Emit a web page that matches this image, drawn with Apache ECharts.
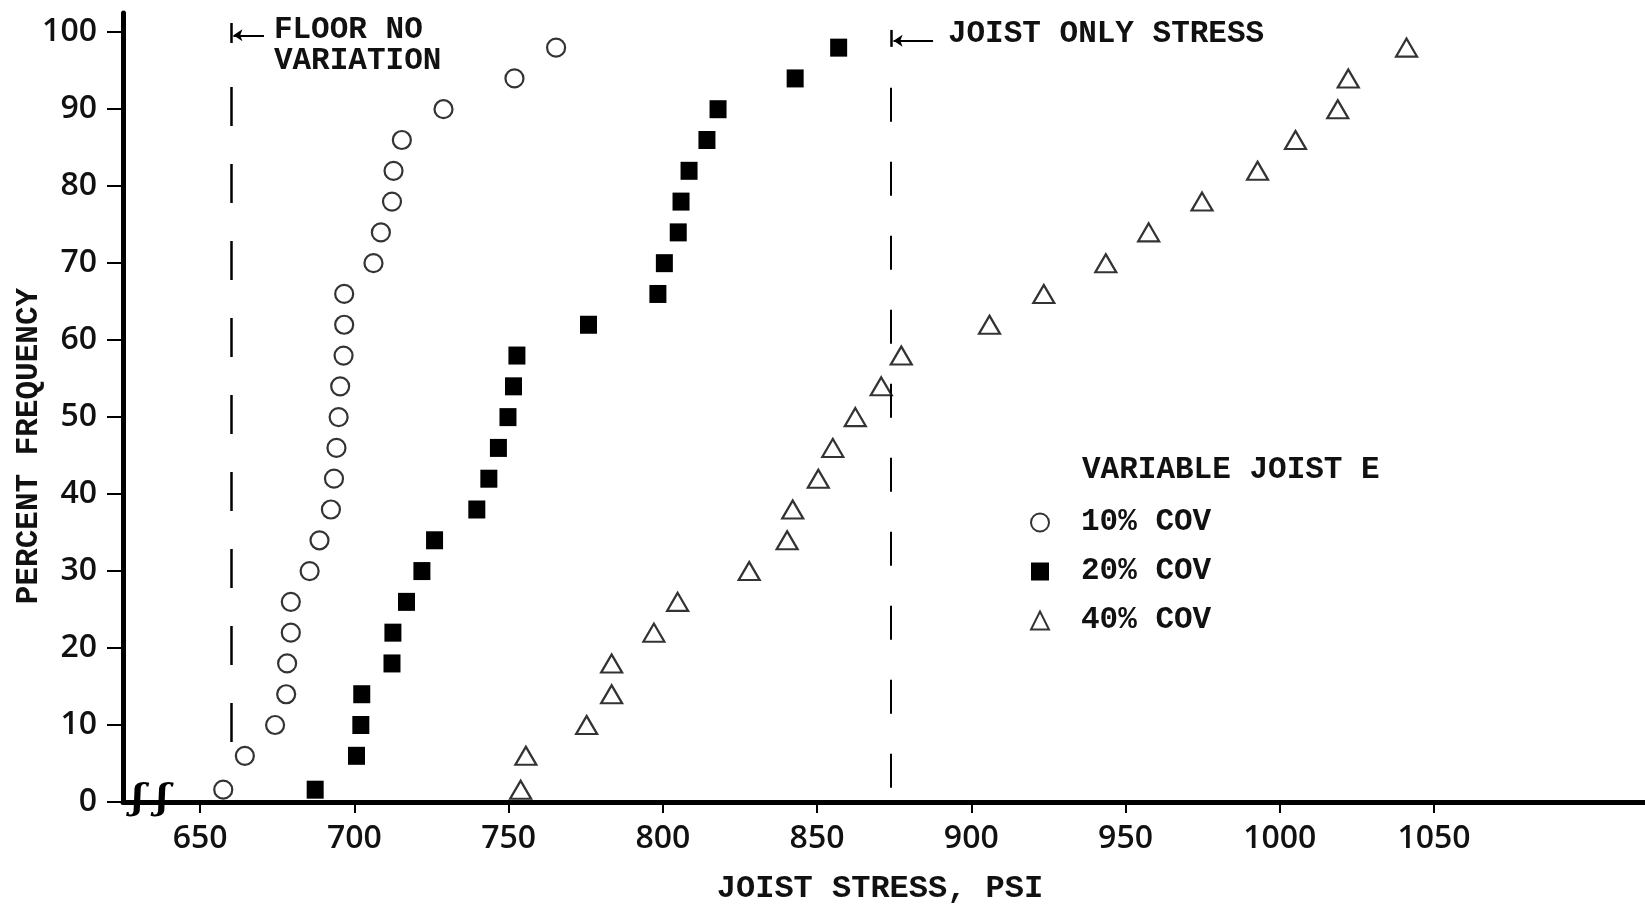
<!DOCTYPE html>
<html><head><meta charset="utf-8">
<script src="https://cdn.jsdelivr.net/npm/echarts@6/dist/echarts.min.js"></script>
<style>html,body{margin:0;padding:0;background:#fff}#c{width:1645px;height:907px}</style>
</head><body><div id="c"></div>
<script>
// Percent frequency (y) shared by all three series
const pct = [1.6, 6, 10, 14, 18, 22, 26, 30, 34, 38, 42, 46, 50, 54, 58, 62, 66, 70, 74, 78, 82, 86, 90, 94, 98];
// Joist stress (x), PSI
const cov10 = [657.5, 664.5, 674.3, 677.9, 678.2, 679.4, 679.4, 685.5, 688.7, 692.4, 693.4, 694.2, 694.9, 695.4, 696.5, 696.7, 696.7, 706.2, 708.6, 712.2, 712.7, 715.4, 728.9, 751.9, 765.4];
const cov20 = [687.3, 700.7, 702.1, 702.4, 712.2, 712.5, 716.9, 721.9, 726.0, 739.7, 743.6, 746.7, 749.8, 751.6, 752.7, 775.9, 798.4, 800.5, 805.0, 805.9, 808.5, 814.3, 817.9, 842.9, 857.0];
const cov40 = [753.9, 755.6, 775.3, 783.4, 783.4, 797.1, 804.8, 828.0, 840.3, 842.1, 850.4, 855.1, 862.4, 870.8, 877.3, 905.9, 923.5, 943.6, 957.5, 974.8, 992.8, 1005.1, 1018.8, 1022.2, 1041.1];
const seriesNames = ['10% COV', '20% COV', '40% COV'];
const xTicks = [650, 700, 750, 800, 850, 900, 950, 1000, 1050];
const yTicks = [0, 10, 20, 30, 40, 50, 60, 70, 80, 90, 100];
const floorLineX = 660;
const joistLineX = 874;

const MONO = "'Liberation Mono', 'Courier New', monospace";
const SANS = "'Open Sans', 'DejaVu Sans', sans-serif";

const toPts = arr => arr.map((x, i) => [x, pct[i]]);

const chart = echarts.init(document.getElementById('c'), null, {renderer: 'canvas'});
chart.setOption({
  backgroundColor: '#fff',
  animation: false,
  grid: {left: 123, right: 0, top: 13, bottom: 105, containLabel: false, outerBoundsMode: 'none'},
  xAxis: {
    type: 'value', min: 625, max: 1118.4,
    splitLine: {show: false},
    axisLine: {show: true, onZero: false, lineStyle: {color: '#000', width: 5}},
    axisTick: {show: true, customValues: xTicks, length: 11, lineStyle: {color: '#000', width: 2}},
    axisLabel: {customValues: xTicks, formatter: v => String(v), margin: 21, color: '#111', fontFamily: SANS, fontSize: 32, fontWeight: 600},
    name: 'JOIST STRESS, PSI', nameLocation: 'middle', nameGap: 71,
    nameTextStyle: {fontFamily: MONO, fontWeight: 'bold', fontSize: 32, color: '#111', padding: [0, 8, 0, 0]}
  },
  yAxis: {
    type: 'value', min: 0, max: 102.5,
    splitLine: {show: false},
    axisLine: {show: true, onZero: false, lineStyle: {color: '#000', width: 5}},
    axisTick: {show: true, customValues: yTicks, length: 16, lineStyle: {color: '#000', width: 2}},
    axisLabel: {customValues: yTicks, formatter: v => String(v), margin: 26, color: '#111', fontFamily: SANS, fontSize: 32, fontWeight: 600}
  },
  legend: {
    data: seriesNames,
    orient: 'vertical', left: 1025, top: 502,
    itemWidth: 18, itemHeight: 18, itemGap: 18,
    textStyle: {fontFamily: MONO, fontWeight: 'bold', fontSize: 31, color: '#111', lineHeight: 30, padding: [0, 0, 0, 27]}
  },
  graphic: [
    {type: 'text', x: 1082, y: 470, style: {text: 'VARIABLE JOIST E', font: "bold 31px 'Liberation Mono', monospace", fill: '#111', verticalAlign: 'middle'}},
    {type: 'text', x: 29, y: 446, rotation: Math.PI / 2, style: {text: 'PERCENT FREQUENCY', font: "bold 31px 'Liberation Mono', monospace", fill: '#111', align: 'center', verticalAlign: 'middle'}}
  ],
  series: [
    {name: seriesNames[0], type: 'scatter', symbol: 'circle', symbolSize: 18, data: toPts(cov10),
     itemStyle: {color: '#fff', borderColor: '#000', borderWidth: 2.2}, z: 5},
    {name: seriesNames[1], type: 'scatter', symbol: 'rect', symbolSize: [17, 18], data: toPts(cov20),
     itemStyle: {color: '#000', borderColor: '#000', borderWidth: 0, opacity: 1}, z: 5},
    {name: seriesNames[2], type: 'scatter', symbol: 'triangle', symbolSize: [21, 18], data: toPts(cov40),
     itemStyle: {color: '#fff', borderColor: '#000', borderWidth: 2.2}, z: 5},
    {name: 'annot', type: 'scatter', data: [], silent: true, z: 3,
     markLine: {
       silent: true, animation: false, symbol: 'none', label: {show: false},
       data: [
         [{coord: [floorLineX, 92.9], lineStyle: {color: '#000', width: 2.5, type: [39, 38]}}, {coord: [floorLineX, 7.7]}],
         [{coord: [joistLineX, 92.8], lineStyle: {color: '#000', width: 2, type: [34, 40]}}, {coord: [joistLineX, 0]}],
         [{coord: [floorLineX, 101.2], lineStyle: {color: '#000', width: 2.5, type: 'solid'}}, {coord: [floorLineX, 98.6]}],
         [{coord: [670.7, 99.6], symbol: 'none', lineStyle: {color: '#000', width: 2, type: 'solid'}}, {coord: [660.8, 99.6], symbol: 'arrow', symbolSize: 9}],
         [{coord: [joistLineX, 100.3], lineStyle: {color: '#000', width: 2.5, type: 'solid'}}, {coord: [joistLineX, 98.1]}],
         [{coord: [887.6, 98.9], symbol: 'none', lineStyle: {color: '#000', width: 2, type: 'solid'}}, {coord: [874.8, 98.9], symbol: 'arrow', symbolSize: 9}]
       ]
     },
     markPoint: {
       silent: true, animation: false, symbol: 'circle', symbolSize: 0,
       data: [
         {coord: [672.3, 98.3], label: {show: true, position: 'right', distance: 5, formatter: 'FLOOR NO\nVARIATION', fontFamily: MONO, fontWeight: 'bold', fontSize: 31, lineHeight: 31, color: '#111'}},
         {coord: [890.8, 99.8], label: {show: true, position: 'right', distance: 5, formatter: 'JOIST ONLY STRESS', fontFamily: MONO, fontWeight: 'bold', fontSize: 31, color: '#111'}},
         {coord: [633.8, 0.3], label: {show: true, position: 'inside', formatter: 'ʃ ʃ', fontFamily: "'DejaVu Serif', serif", fontStyle: 'italic', fontWeight: 'bold', fontSize: 36, color: '#000'}}
       ]
     }
    }
  ]
});
</script>
</body></html>
